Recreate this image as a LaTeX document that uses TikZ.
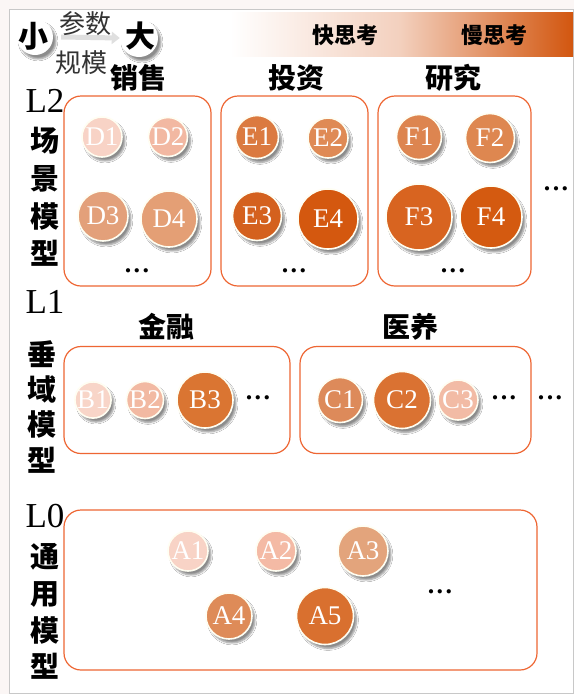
\documentclass[tikz,border=0pt]{standalone}
\usepackage{fontspec}
\setmainfont{Liberation Serif}
\newfontfamily\cjk{Noto Sans CJK SC}
\usetikzlibrary{shadows.blur,arrows.meta}
\newcommand{\mydots}{.\hspace{2.5pt}.\hspace{2.5pt}.}
\definecolor{boxc}{HTML}{EE6633}
\definecolor{cD1}{HTML}{F8D3C6}
\definecolor{cD2}{HTML}{F2B8A2}
\definecolor{cD3}{HTML}{E3A07A}
\definecolor{cD4}{HTML}{E49F75}
\definecolor{cE1}{HTML}{DB7A40}
\definecolor{cE2}{HTML}{DF8A55}
\definecolor{cE3}{HTML}{D4611E}
\definecolor{cE4}{HTML}{D4580F}
\definecolor{cF1}{HTML}{DD8550}
\definecolor{cF2}{HTML}{DE8750}
\definecolor{cF3}{HTML}{D86420}
\definecolor{cF4}{HTML}{D45A10}
\definecolor{cB1}{HTML}{F8D5C8}
\definecolor{cB2}{HTML}{F2B9A2}
\definecolor{cB3}{HTML}{DA7532}
\definecolor{cC1}{HTML}{DD8A5A}
\definecolor{cC2}{HTML}{DA7232}
\definecolor{cC3}{HTML}{F2BBA5}
\definecolor{cA1}{HTML}{F8D3C6}
\definecolor{cA2}{HTML}{F4BAA5}
\definecolor{cA3}{HTML}{E3A47C}
\definecolor{cA4}{HTML}{DE8B58}
\definecolor{cA5}{HTML}{D9702F}
\definecolor{grad1}{HTML}{F3D0BE}
\definecolor{grad2}{HTML}{D2560F}
\definecolor{framec}{HTML}{C8C8C8}
\definecolor{outbg}{HTML}{FBF6F5}
\tikzset{
  ball/.style={circle, draw=white!95!yellow, line width=1.6pt, text=white, inner sep=0pt,
    font=\fontsize{27}{27}\selectfont,
    blur shadow={shadow xshift=3pt, shadow yshift=-4pt, shadow blur steps=6, shadow opacity=45}},
  grp/.style={rectangle, draw=boxc, line width=1.2pt, rounded corners=17pt, inner sep=0pt},
  head/.style={font=\cjk\bfseries\fontsize{28}{28}\selectfont},
  side/.style={font=\cjk\bfseries\fontsize{29}{29}\selectfont},
  lev/.style={font=\fontsize{35}{35}\selectfont},
  dots/.style={font=\bfseries\fontsize{26}{26}\selectfont, inner sep=1pt},
  think/.style={font=\cjk\bfseries\fontsize{22}{22}\selectfont},
  wball/.style={circle, fill=white, inner sep=0pt,
    blur shadow={shadow xshift=3pt, shadow yshift=-4pt, shadow blur steps=6, shadow opacity=45}}
}
\begin{document}
\begin{tikzpicture}[x=1pt,y=-1pt]
\useasboundingbox (0,0) rectangle (574,694);
\fill[outbg] (0,0) rectangle (574,694);
\fill[white] (9,9) rectangle (573,693);
\draw[framec, line width=1pt] (9,693) -- (9,9) -- (573,9) -- (573,693) -- cycle;
% gradient bar
\shade[left color=white, right color=grad1] (230,12) rectangle (400,56);
\shade[left color=grad1, right color=grad2] (399.5,12) rectangle (573,56);
\node[think] (fast) at (345,35) {快思考};
\node[think] (slow) at (494,35) {慢思考};
% top left scale indicator
\node[wball, minimum size=36pt] (smallc) at (35,37) {};
\node[wball, minimum size=38pt] (bigc) at (139,38) {};
\draw[gray!25, line width=5pt, -{Triangle[length=8pt,width=12pt]}] (smallc.east) ++(8,0) coordinate (arrs) (arrs) -- (bigc.west);
\node[font=\cjk\bfseries\fontsize{30}{30}\selectfont] (small) at (34,36) {小};
\node[font=\cjk\bfseries\fontsize{30}{30}\selectfont] (big) at (140,36) {大};
\node[font=\cjk\fontsize{26}{26}\selectfont, text=black!80] (param) at (85,24) {参数};
\node[font=\cjk\fontsize{26}{26}\selectfont, text=black!80] (scale) at (82,63) {规模};
% L2
\node[lev] (L2) at (45,101) {L2};
\node[side] (s21) at (45,141) {场};
\node[side] (s22) at (45,179) {景};
\node[side] (s23) at (45,216) {模};
\node[side] (s24) at (45,253) {型};
\node[head] (hD) at (138,78) {销售};
\node[head] (hE) at (296,78) {投资};
\node[head] (hF) at (453,78) {研究};
\node[grp, minimum width=147pt, minimum height=190pt] (gD) at (137.5,191) {};
\node[grp, minimum width=147pt, minimum height=190pt] (gE) at (294.5,191) {};
\node[grp, minimum width=153pt, minimum height=190pt] (gF) at (454.5,191) {};
\node[ball, fill=cD1, minimum size=40pt] (D1) at (102,137) {D1};
\node[ball, fill=cD2, minimum size=39pt] (D2) at (168,137) {D2};
\node[ball, fill=cD3, minimum size=50pt] (D3) at (103,216) {D3};
\node[ball, fill=cD4, minimum size=56pt] (D4) at (169,219) {D4};
\node[dots] (dD) at (137,271) {\mydots};
\node[ball, fill=cE1, minimum size=43pt] (E1) at (257,137) {E1};
\node[ball, fill=cE2, minimum size=40pt] (E2) at (328,138) {E2};
\node[ball, fill=cE3, minimum size=49pt] (E3) at (257,216) {E3};
\node[ball, fill=cE4, minimum size=60pt] (E4) at (328,219) {E4};
\node[dots] (dE) at (294,271) {\mydots};
\node[ball, fill=cF1, minimum size=45pt] (F1) at (419,137) {F1};
\node[ball, fill=cF2, minimum size=49pt] (F2) at (490,138) {F2};
\node[ball, fill=cF3, minimum size=66pt] (F3) at (419,217) {F3};
\node[ball, fill=cF4, minimum size=62pt] (F4) at (491,217) {F4};
\node[dots] (dF) at (453,271) {\mydots};
\node[dots] (dL2) at (556,189) {\mydots};
% L1
\node[lev] (L1) at (45,302) {L1};
\node[side] (s11) at (42,354) {垂};
\node[side] (s12) at (42,389) {域};
\node[side] (s13) at (42,424) {模};
\node[side] (s14) at (42,460) {型};
\node[head] (hB) at (166,327) {金融};
\node[head] (hC) at (410,327) {医养};
\node[grp, minimum width=226pt, minimum height=107pt] (gB) at (177,400) {};
\node[grp, minimum width=231pt, minimum height=107pt] (gC) at (415.5,400) {};
\node[ball, fill=cB1, minimum size=36pt] (B1) at (93,400) {B1};
\node[ball, fill=cB2, minimum size=37pt] (B2) at (145,400) {B2};
\node[ball, fill=cB3, minimum size=56pt] (B3) at (205,400) {B3};
\node[dots] (dB) at (258,398) {\mydots};
\node[ball, fill=cC1, minimum size=45pt] (C1) at (340,400) {C1};
\node[ball, fill=cC2, minimum size=57pt] (C2) at (402,400) {C2};
\node[ball, fill=cC3, minimum size=40pt] (C3) at (458,400) {C3};
\node[dots] (dC) at (504,398) {\mydots};
\node[dots] (dL1) at (550,398) {\mydots};
% L0
\node[lev] (L0) at (45,516) {L0};
\node[side] (s01) at (45,557) {通};
\node[side] (s02) at (45,595) {用};
\node[side] (s03) at (45,630) {模};
\node[side] (s04) at (45,666) {型};
\node[grp, minimum width=473pt, minimum height=160pt] (gA) at (300.5,590) {};
\node[ball, fill=cA1, minimum size=40pt] (A1) at (188,551) {A1};
\node[ball, fill=cA2, minimum size=40pt] (A2) at (276,551) {A2};
\node[ball, fill=cA3, minimum size=50pt] (A3) at (363,551) {A3};
\node[ball, fill=cA4, minimum size=46pt] (A4) at (229,616) {A4};
\node[ball, fill=cA5, minimum size=57pt] (A5) at (325,616) {A5};
\node[dots] (dA) at (440,592) {\mydots};
\end{tikzpicture}
\end{document}
